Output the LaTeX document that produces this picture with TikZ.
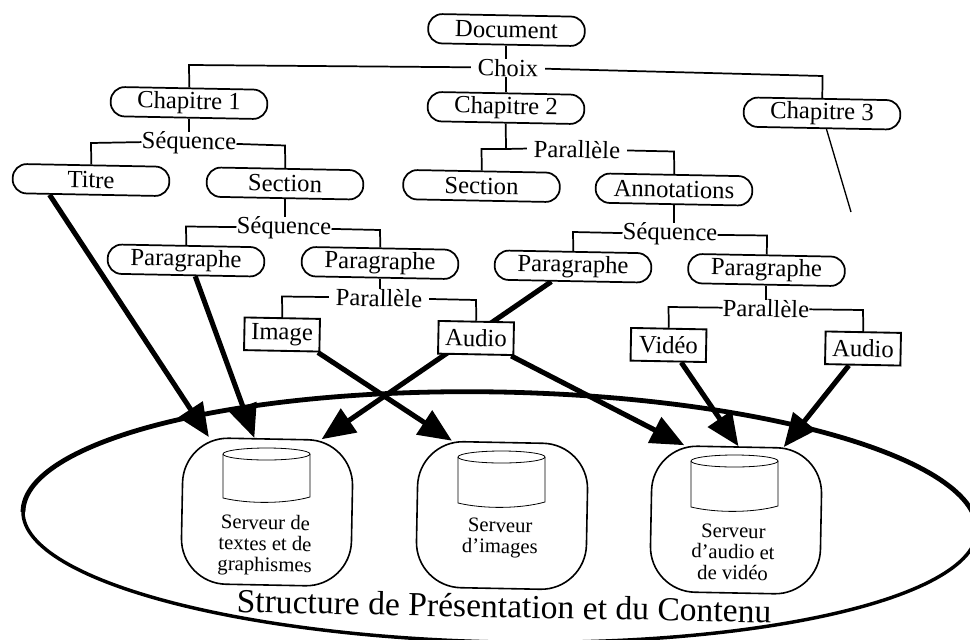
\documentclass[tikz,border=0pt]{standalone}
\usepackage{fontspec}
\setmainfont{Liberation Serif}
\usetikzlibrary{calc,arrows.meta,backgrounds}
\tikzset{
  pill/.style={draw=black,line width=1.3pt,fill=white,rectangle,rounded corners=10.5pt,
    minimum width=117.5pt,minimum height=22pt,inner sep=0pt,rotate=-1.1,font=\fontsize{18.5}{20}\selectfont},
  mediabox/.style={draw=black,line width=1.4pt,fill=white,rectangle,minimum width=56.5pt,minimum height=24.5pt,
    inner sep=0pt,rotate=-1.1,font=\fontsize{18.5}{20}\selectfont},
  oplabel/.style={inner sep=0pt,rotate=-1.1,font=\fontsize{18.5}{20}\selectfont},
  gaplabel/.style={oplabel,inner xsep=5pt},
  server/.style={draw=black,line width=1.2pt,rectangle,rounded corners=34pt,minimum width=127.5pt,minimum height=109.5pt,
    inner sep=0pt,rotate=-1.1},
  servertext/.style={inner sep=0pt,rotate=-1.1,align=center,font=\fontsize{15.5}{15.7}\selectfont},
  tree/.style={draw=black,line width=1.3pt},
  feed/.style={draw=black,line width=3.8pt,-{Triangle[length=25pt,width=21pt]}},
  can/.style={draw=black,line width=0.6pt},
}
\newcommand{\cancyl}[3]{% left x, top y, bottom y
  \draw[can] (#1,#2+6) arc[start angle=180,end angle=540,x radius=43.5,y radius=6];
  \draw[can] (#1,#2+6) -- (#1,#3-5) .. controls (#1+25,#3+1) and (#1+62,#3+1) .. (#1+87,#3-6) -- (#1+87,#2+6);
}
\begin{document}
\begin{tikzpicture}[x=0.75pt,y=-0.75pt]
\useasboundingbox (0,0) rectangle (970,639);
% pill nodes
\node[pill] (doc) at (506.5,30) {Document};
\node[pill] (ch1) at (189,103) {Chapitre 1};
\node[pill] (ch2) at (506,108) {Chapitre 2};
\node[pill] (ch3) at (822,113.5) {Chapitre 3};
\node[pill] (titre) at (91,180) {Titre};
\node[pill] (sec1) at (285,183.5) {Section};
\node[pill] (sec2) at (481.5,186) {Section};
\node[pill] (ann) at (674,189.5) {Annotations};
\node[pill] (para) at (186,260.5) {Paragraphe};
\node[pill] (parb) at (380,263) {Paragraphe};
\node[pill] (parc) at (573,266.5) {Paragraphe};
\node[pill] (pard) at (766.5,270) {Paragraphe};
% media boxes
\node[mediabox] (image) at (282,334.5) {Image};
\node[mediabox] (auda) at (476,338) {Audio};
\node[mediabox] (video) at (668.5,345) {Vidéo};
\node[mediabox] (audb) at (863,348.5) {Audio};
% operators
\node[gaplabel] (choix) at (508,68) {Choix};
\node[oplabel] (seqa) at (189,143) {Séquence};
\node[oplabel] (seqb) at (284,228) {Séquence};
\node[gaplabel] (para1) at (379,298) {Parallèle};
\node[gaplabel] (para2) at (577,149.5) {Parallèle};
\node[oplabel] (seqc) at (670,234) {Séquence};
\node[oplabel] (para3) at (766,308.5) {Parallèle};
% servers
\node[server] (sa) at (267,512) {};
\node[server] (sb) at (502,515.5) {};
\node[server] (sc) at (736,520) {};
\node[servertext] (ta) at (265,545.5) {Serveur de\\textes et de\\graphismes};
\node[servertext] (tb) at (500,538) {Serveur\\d’images};
\node[servertext] (tc) at (733,552) {Serveur\\d’audio et\\de vidéo};
\node[inner sep=0pt,rotate=-1.1,font=\fontsize{25.2}{27}\selectfont] (title) at (504,606) {Structure de Présentation et du Contenu};
% elbows
\coordinate (e1) at (189,65);
\coordinate (e2) at (822.5,76);
\coordinate (e3) at (91,143);
\coordinate (e4) at (285,145.5);
\coordinate (e5) at (186,226.5);
\coordinate (e6) at (380,230);
\coordinate (e7) at (282,296.5);
\coordinate (e8) at (476,300);
\coordinate (j2) at (506,149);
\coordinate (e9) at (481.5,149);
\coordinate (e10) at (674,151.5);
\coordinate (e11) at (573,232);
\coordinate (e12) at (767,235.5);
\coordinate (e13) at (668.5,307);
\coordinate (e14) at (863,310);
\coordinate (ch3end) at (851,212);
% cylinders
\cancyl{223}{448}{503}
\cancyl{458}{451}{508}
\cancyl{691}{455}{512}
\begin{scope}[on background layer]
  \fill[white] (0,0) rectangle (970,639);
  \begin{scope}
    \clip (0,0) rectangle (970,639);
    \draw[line width=3.6pt] plot[domain=0:180,samples=120] ({500+477*cos(\x)},{521+9*cos(\x)-129*sin(\x)});
    \draw[line width=2.6pt] plot[domain=180:360,samples=120] ({500+477*cos(\x)},{521+9*cos(\x)-121*sin(\x)});
  \end{scope}
  % tree connectors
  \draw[tree] (doc.south) -- (doc.south |- choix.north);
  \draw[tree] (ch2.north |- choix.south) -- (ch2.north);
  \draw[tree] (choix.west) -- (e1) -- (ch1.north);
  \draw[tree] (choix.east) -- (e2) -- (ch3.north);
  \draw[tree] (ch1.south) -- (ch1.south |- seqa.north);
  \draw[tree] (seqa.west) -- (e3) -- (titre.north);
  \draw[tree] (seqa.east) -- (e4) -- (sec1.north);
  \draw[tree] (sec1.south) -- (sec1.south |- seqb.north);
  \draw[tree] (seqb.west) -- (e5) -- (para.north);
  \draw[tree] (seqb.east) -- (e6) -- (parb.north);
  \draw[tree] (parb.south) -- (parb.south |- para1.north);
  \draw[tree] (para1.west) -- (e7) -- (image.north);
  \draw[tree] (para1.east) -- (e8) -- (auda.north);
  \draw[tree] (ch2.south) -- (j2);
  \draw[tree] (para2.west) -- (j2) -- (e9) -- (sec2.north);
  \draw[tree] (para2.east) -- (e10) -- (ann.north);
  \draw[tree] (ann.south) -- (ann.south |- seqc.north);
  \draw[tree] (seqc.west) -- (e11) -- (parc.north);
  \draw[tree] (seqc.east) -- (e12) -- (pard.north);
  \draw[tree] (pard.south) -- (pard.south |- para3.north);
  \draw[tree] (para3.west) -- (e13) -- (video.north);
  \draw[tree] (para3.east) -- (e14) -- (audb.north);
  \draw[tree,line width=1pt] ($(ch3.south west)!0.53!(ch3.south east)$) -- (ch3end);
  % this one runs behind the Audio box
  \draw[feed] ($(parc.south west)!0.365!(parc.south east)$) -- ($(sa.north west)!0.81!(sa.north east)$);
\end{scope}
% feeds to the servers
\draw[feed] ($(titre.south west)!0.24!(titre.south east)$) -- ($(sa.north west)!0.153!(sa.north east)$);
\draw[feed] ($(para.south west)!0.56!(para.south east)$) -- ($(sa.north west)!0.418!(sa.north east)$);
\draw[feed] ($(image.south west)!0.97!(image.south east)$) -- ($(sb.north west)!0.2!(sb.north east)$);
\draw[feed] ($(auda.south west)!0.96!(auda.south east)$) -- ($(sc.north west)!0.19!(sc.north east)$);
\draw[feed] ($(video.south west)!0.67!(video.south east)$) -- ($(sc.north west)!0.506!(sc.north east)$);
\draw[feed] ($(audb.south west)!0.32!(audb.south east)$) -- ($(sc.north west)!0.77!(sc.north east)$);
\end{tikzpicture}
\end{document}
